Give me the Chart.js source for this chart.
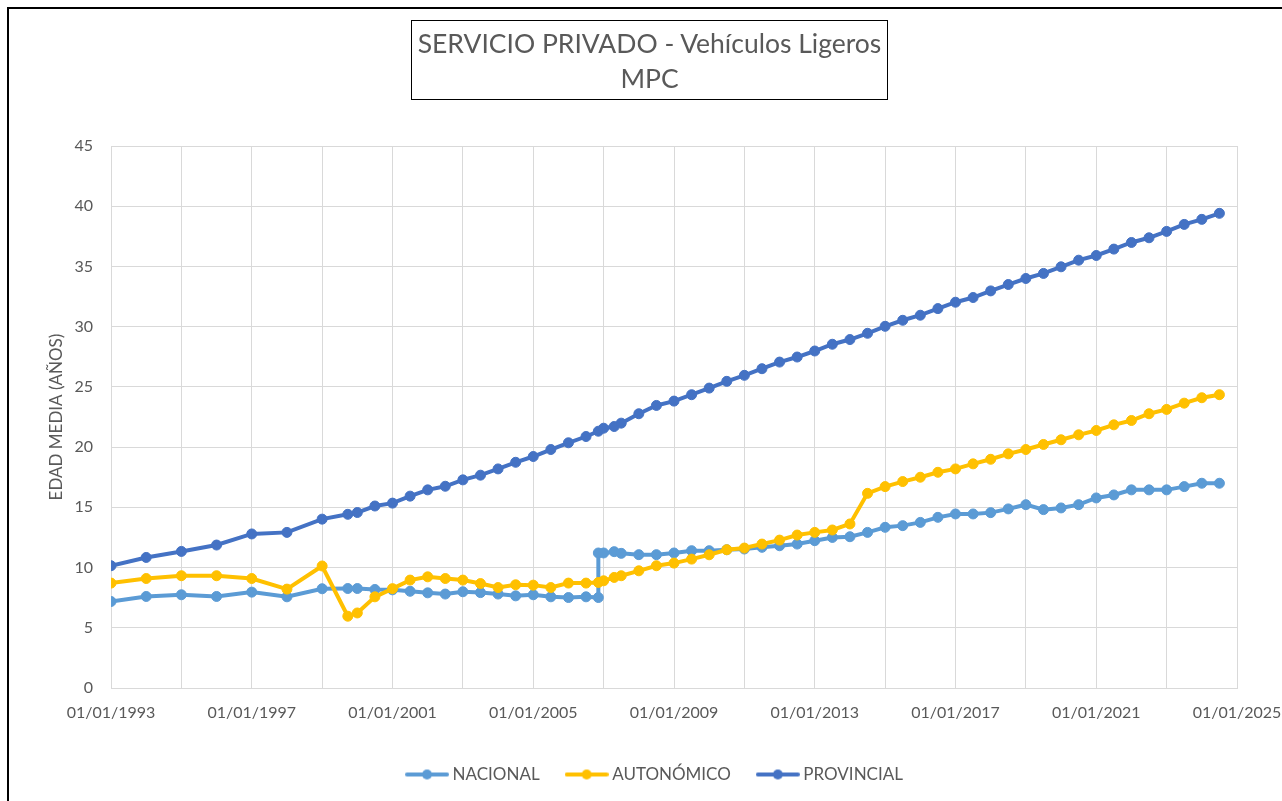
<!DOCTYPE html>
<html>
<head>
<meta charset="utf-8">
<title>SERVICIO PRIVADO - Vehículos Ligeros MPC</title>
<script src="https://cdn.jsdelivr.net/npm/chart.js@4.4.1/dist/chart.umd.min.js"></script>
<style>
  body { margin: 0; background: #fff; }
  #wrap { position: relative; width: 1282px; height: 801px; overflow: hidden; }
  #marco {
    position: absolute; left: 7px; top: 7px; width: 1400px; height: 900px;
    border-left: 2px solid #000; border-top: 2px solid #000;
  }
  #titulo {
    position: absolute; left: 411px; top: 20px; width: 477px; height: 80px;
    border: 1.5px solid #000; box-sizing: border-box;
    font-family: Lato, "Open Sans", sans-serif; font-size: 26.5px; color: #595959;
    text-align: center; line-height: 35px; padding-top: 5px;
  }
  canvas { position: absolute; left: 0; top: 0; }
</style>
</head>
<body>
<div id="wrap">
  <div id="marco"></div>
  <canvas id="grafico" width="1282" height="801"></canvas>
  <div id="titulo">SERVICIO PRIVADO - Vehículos Ligeros<br>MPC</div>
</div>
<script>
// Fechas (años decimales) de cada toma de datos
const fechas = [
  1993, 1994, 1995, 1996, 1997, 1998, 1999, 1999.73,
  2000, 2000.5, 2001, 2001.5, 2002, 2002.5, 2003, 2003.5,
  2004, 2004.5, 2005, 2005.5, 2006, 2006.5, 2006.85, 2007, 2007.3,
  2007.5, 2008, 2008.5, 2009, 2009.5, 2010, 2010.5, 2011, 2011.5,
  2012, 2012.5, 2013, 2013.5, 2014, 2014.5, 2015, 2015.5, 2016, 2016.5,
  2017, 2017.5, 2018, 2018.5, 2019, 2019.5, 2020, 2020.5, 2021, 2021.5,
  2022, 2022.5, 2023, 2023.5, 2024, 2024.5
];

const nacional = [
  7.18, 7.60, 7.74, 7.60, 7.96, 7.57, 8.24, 8.26,
  8.26, 8.18, 8.15, 8.03, 7.90, 7.80, 7.99, 7.92,
  7.80, 7.65, 7.74, 7.57, 7.51, 7.57, 11.21, 11.21, 11.32,
  11.18, 11.07, 11.07, 11.21, 11.40, 11.40, 11.48, 11.54, 11.68,
  11.81, 11.95, 12.23, 12.50, 12.56, 12.92, 13.34, 13.48, 13.75, 14.17,
  14.45, 14.45, 14.56, 14.87, 15.22, 14.81, 14.95, 15.22, 15.78, 16.03,
  16.45, 16.45, 16.45, 16.72, 17.00, 17.00
];

const autonomico = [
  8.71, 9.09, 9.32, 9.32, 9.09, 8.21, 10.13, 5.96,
  6.23, 7.57, 8.25, 8.96, 9.23, 9.09, 8.96, 8.67,
  8.34, 8.57, 8.54, 8.34, 8.71, 8.71, 8.76, 8.90, 9.18,
  9.32, 9.73, 10.15, 10.37, 10.70, 11.06, 11.48, 11.62, 11.95,
  12.28, 12.70, 12.92, 13.12, 13.62, 16.16, 16.72, 17.14, 17.50, 17.91,
  18.19, 18.61, 18.99, 19.44, 19.80, 20.22, 20.61, 21.02, 21.38, 21.85,
  22.21, 22.77, 23.13, 23.65, 24.10, 24.35
];

const provincial = [
  10.15, 10.84, 11.34, 11.87, 12.79, 12.92, 14.02, 14.42,
  14.57, 15.11, 15.35, 15.93, 16.45, 16.75, 17.28, 17.67,
  18.19, 18.74, 19.22, 19.80, 20.36, 20.88, 21.32, 21.57, 21.71,
  21.99, 22.77, 23.46, 23.82, 24.35, 24.90, 25.46, 25.96, 26.51,
  27.06, 27.48, 27.98, 28.54, 28.93, 29.45, 30.03, 30.53, 30.95, 31.50,
  32.03, 32.42, 32.97, 33.50, 34.00, 34.42, 34.97, 35.52, 35.91, 36.44,
  36.99, 37.38, 37.91, 38.49, 38.91, 39.41
];

// La serie nacional salta en vertical en esta fecha (valor previo al salto)
const fechaSalto = 2006.85;
const nacionalAntesSalto = 7.51;

const etiquetas = ["NACIONAL", "AUTONÓMICO", "PROVINCIAL"];
const colores = ["#5B9BD5", "#FFC000", "#4472C4"];

const TEXTO = "#595959";
const REJILLA = "#D9D9D9";
const FUENTE = { family: "Lato, 'Open Sans', sans-serif", size: 16 };
const FUENTE_GRANDE = { family: "Lato, 'Open Sans', sans-serif", size: 17 };

function puntos(valores, salto) {
  const out = [];
  fechas.forEach((f, i) => {
    if (salto && f === fechaSalto) out.push({ x: f, y: nacionalAntesSalto });
    out.push({ x: f, y: valores[i] });
  });
  return out;
}

// Marcador de leyenda: linea con circulo
function marcador(color) {
  const c = document.createElement("canvas");
  c.width = 44;
  c.height = 12;
  const ctx = c.getContext("2d");
  ctx.strokeStyle = color;
  ctx.lineWidth = 4;
  ctx.lineCap = "round";
  ctx.beginPath();
  ctx.moveTo(2, 6);
  ctx.lineTo(42, 6);
  ctx.stroke();
  ctx.fillStyle = color;
  ctx.beginPath();
  ctx.arc(22, 6, 5, 0, Math.PI * 2);
  ctx.fill();
  return c;
}

function serie(i, datos) {
  return {
    label: etiquetas[i],
    data: datos,
    borderColor: colores[i],
    backgroundColor: colores[i],
    pointBackgroundColor: colores[i],
    pointBorderColor: colores[i],
    borderWidth: 4,
    pointRadius: 5,
    pointBorderWidth: 1,
    tension: 0,
    order: 3 - i
  };
}

// Mueve la leyenda un poco a la derecha, como en el original
const desplazaLeyenda = {
  id: "desplazaLeyenda",
  afterLayout(chart) {
    if (chart.legend) {
      chart.legend.left += 18;
      chart.legend.right += 18;
    }
  }
};

new Chart(document.getElementById("grafico"), {
  type: "line",
  data: {
    datasets: [
      serie(0, puntos(nacional, true)),
      serie(1, puntos(autonomico, false)),
      serie(2, puntos(provincial, false))
    ]
  },
  plugins: [desplazaLeyenda],
  options: {
    responsive: false,
    animation: false,
    layout: { padding: { left: 40, top: 146, right: 45, bottom: 8 } },
    plugins: {
      tooltip: { enabled: false },
      legend: {
        position: "bottom",
        labels: {
          usePointStyle: true,
          pointStyleWidth: 34,
          padding: 30,
          color: TEXTO,
          font: FUENTE_GRANDE,
          generateLabels: (chart) =>
            chart.data.datasets.map((ds, i) => ({
              text: ds.label,
              pointStyle: marcador(ds.borderColor),
              fillStyle: ds.borderColor,
              strokeStyle: ds.borderColor,
              lineWidth: 0,
              fontColor: TEXTO,
              hidden: false,
              datasetIndex: i
            }))
        }
      }
    },
    scales: {
      x: {
        type: "linear",
        min: 1993,
        max: 2025,
        ticks: {
          stepSize: 2,
          autoSkip: false,
          maxRotation: 0,
          padding: 15,
          color: TEXTO,
          font: FUENTE,
          callback: (v) => ((v - 1993) % 4 === 0 ? "01/01/" + v : "")
        },
        grid: { color: REJILLA, drawTicks: false },
        border: { color: REJILLA },
        afterFit: (s) => {
          s.paddingLeft = 0;
          s.paddingRight = 0;
          s.height = 48;
        }
      },
      y: {
        min: 0,
        max: 45,
        ticks: { stepSize: 5, padding: 18, color: TEXTO, font: FUENTE },
        grid: { color: REJILLA, drawTicks: false },
        border: { display: false },
        title: {
          display: true,
          text: "EDAD MEDIA (AÑOS)",
          color: TEXTO,
          font: FUENTE_GRANDE,
          padding: { top: 6, bottom: 0 }
        },
        afterFit: (s) => {
          s.width = 71;
          s.paddingTop = 0;
          s.paddingBottom = 0;
        }
      }
    }
  }
});
</script>
</body>
</html>
